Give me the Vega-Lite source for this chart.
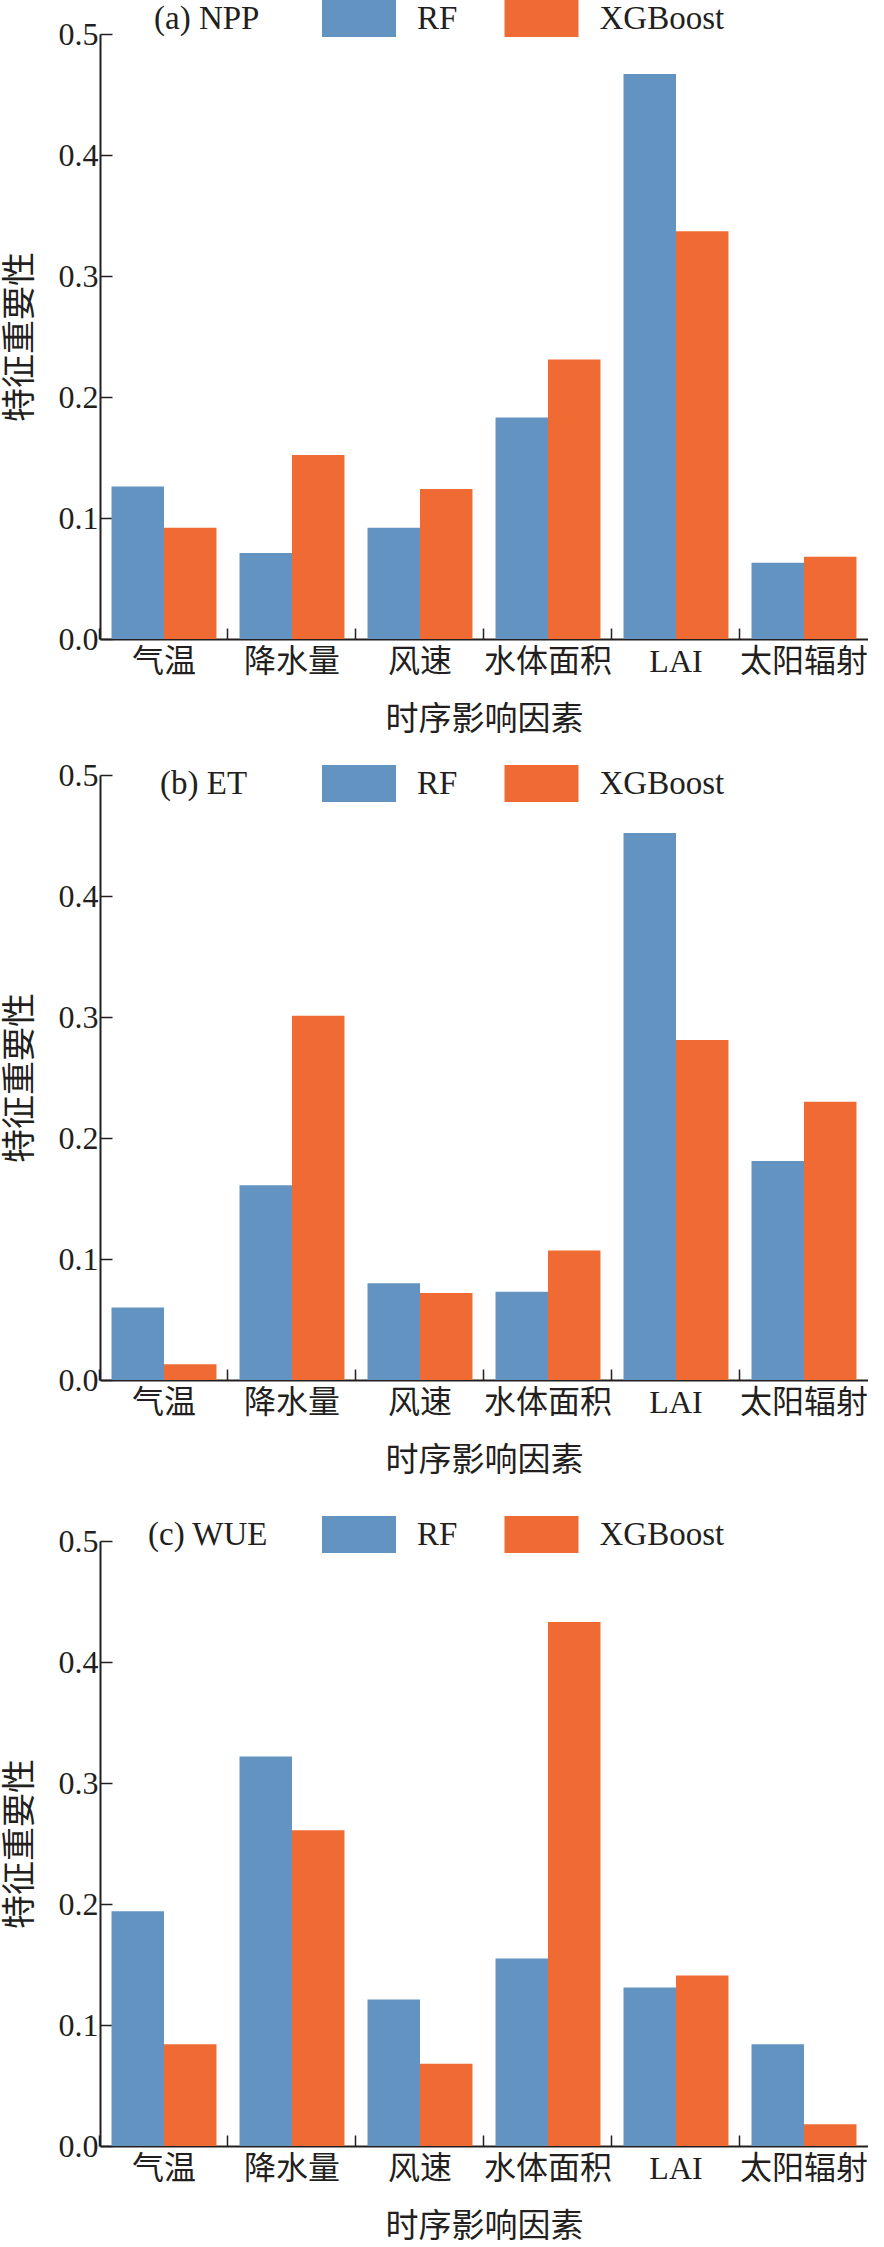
{
  "$schema": "https://vega.github.io/schema/vega-lite/v6.json",
  "background": "white",
  "padding": {"left": 3, "top": 0, "right": 0, "bottom": 0},
  "config": {
    "view": {"stroke": null},
    "font": "'Liberation Serif', 'Noto Sans CJK SC', serif",
    "axis": {
      "domainColor": "#231f20",
      "domainWidth": 2,
      "tickColor": "#231f20",
      "tickWidth": 1.5,
      "labelColor": "#231f20",
      "titleColor": "#231f20",
      "labelFont": "'Liberation Serif', 'Noto Sans CJK SC', serif",
      "titleFont": "'Liberation Serif', 'Noto Sans CJK SC', serif",
      "titleFontWeight": "normal",
      "grid": false
    },
    "legend": {
      "labelFont": "'Liberation Serif', serif",
      "titleFont": "'Liberation Serif', serif",
      "labelColor": "#231f20",
      "titleColor": "#231f20",
      "labelFontSize": 33,
      "titleFontSize": 33,
      "titleFontWeight": "normal",
      "titleOrient": "left",
      "titleAnchor": "middle",
      "titleBaseline": "middle",
      "symbolType": "M-2,-1H2V1H-2Z",
      "symbolSize": 1369,
      "symbolStrokeWidth": 0,
      "labelOffset": 39.5,
      "columnPadding": 46.5
    },
    "concat": {"spacing": 23}
  },
  "datasets": {
    "imp": [
      {"panel": "a", "factor": "气温", "model": "RF", "value": 0.126},
      {"panel": "a", "factor": "气温", "model": "XGBoost", "value": 0.092},
      {"panel": "a", "factor": "降水量", "model": "RF", "value": 0.071},
      {"panel": "a", "factor": "降水量", "model": "XGBoost", "value": 0.152},
      {"panel": "a", "factor": "风速", "model": "RF", "value": 0.092},
      {"panel": "a", "factor": "风速", "model": "XGBoost", "value": 0.124},
      {"panel": "a", "factor": "水体面积", "model": "RF", "value": 0.183},
      {"panel": "a", "factor": "水体面积", "model": "XGBoost", "value": 0.231},
      {"panel": "a", "factor": "LAI", "model": "RF", "value": 0.467},
      {"panel": "a", "factor": "LAI", "model": "XGBoost", "value": 0.337},
      {"panel": "a", "factor": "太阳辐射", "model": "RF", "value": 0.063},
      {"panel": "a", "factor": "太阳辐射", "model": "XGBoost", "value": 0.068},
      {"panel": "b", "factor": "气温", "model": "RF", "value": 0.060},
      {"panel": "b", "factor": "气温", "model": "XGBoost", "value": 0.013},
      {"panel": "b", "factor": "降水量", "model": "RF", "value": 0.161},
      {"panel": "b", "factor": "降水量", "model": "XGBoost", "value": 0.301},
      {"panel": "b", "factor": "风速", "model": "RF", "value": 0.080},
      {"panel": "b", "factor": "风速", "model": "XGBoost", "value": 0.072},
      {"panel": "b", "factor": "水体面积", "model": "RF", "value": 0.073},
      {"panel": "b", "factor": "水体面积", "model": "XGBoost", "value": 0.107},
      {"panel": "b", "factor": "LAI", "model": "RF", "value": 0.452},
      {"panel": "b", "factor": "LAI", "model": "XGBoost", "value": 0.281},
      {"panel": "b", "factor": "太阳辐射", "model": "RF", "value": 0.181},
      {"panel": "b", "factor": "太阳辐射", "model": "XGBoost", "value": 0.230},
      {"panel": "c", "factor": "气温", "model": "RF", "value": 0.194},
      {"panel": "c", "factor": "气温", "model": "XGBoost", "value": 0.084},
      {"panel": "c", "factor": "降水量", "model": "RF", "value": 0.322},
      {"panel": "c", "factor": "降水量", "model": "XGBoost", "value": 0.261},
      {"panel": "c", "factor": "风速", "model": "RF", "value": 0.121},
      {"panel": "c", "factor": "风速", "model": "XGBoost", "value": 0.068},
      {"panel": "c", "factor": "水体面积", "model": "RF", "value": 0.155},
      {"panel": "c", "factor": "水体面积", "model": "XGBoost", "value": 0.433},
      {"panel": "c", "factor": "LAI", "model": "RF", "value": 0.131},
      {"panel": "c", "factor": "LAI", "model": "XGBoost", "value": 0.141},
      {"panel": "c", "factor": "太阳辐射", "model": "RF", "value": 0.084},
      {"panel": "c", "factor": "太阳辐射", "model": "XGBoost", "value": 0.018}
    ]
  },
  "resolve": {"scale": {"color": "independent"}, "legend": {"color": "independent"}},
  "vconcat": [
    {
      "width": 768,
      "height": 605,
      "data": {"name": "imp"},
      "transform": [{"filter": "datum.panel === 'a'"}],
      "mark": {"type": "bar"},
      "encoding": {
        "x": {
          "field": "factor", "type": "nominal", "sort": null,
          "scale": {"paddingInner": 0.18, "paddingOuter": 0.09},
          "axis": {"title": "时序影响因素", "labelAngle": 0, "labelFontSize": 32, "titleFontSize": 33, "tickSize": -11, "bandPosition": -0.11, "labelPadding": 18, "titlePadding": 26}
        },
        "xOffset": {"field": "model", "type": "nominal", "scale": {"paddingInner": 0, "paddingOuter": 0}},
        "y": {
          "field": "value", "type": "quantitative",
          "scale": {"domain": [0, 0.5], "nice": false},
          "axis": {"title": "特征重要性", "values": [0, 0.1, 0.2, 0.3, 0.4, 0.5], "format": ".1f", "labelFontSize": 32, "titleFontSize": 34, "tickSize": -12, "labelPadding": 14, "titlePadding": 21}
        },
        "color": {
          "field": "model", "type": "nominal",
          "scale": {"domain": ["RF", "XGBoost"], "range": ["#6393c1", "#f06b34"]},
          "legend": {"orient": "none", "direction": "horizontal", "legendX": 54, "legendY": -34, "padding": 0, "title": "(a) NPP", "titlePadding": 80.5}
        }
      }
    },
    {
      "width": 768,
      "height": 605,
      "data": {"name": "imp"},
      "transform": [{"filter": "datum.panel === 'b'"}],
      "mark": {"type": "bar"},
      "encoding": {
        "x": {
          "field": "factor", "type": "nominal", "sort": null,
          "scale": {"paddingInner": 0.18, "paddingOuter": 0.09},
          "axis": {"title": "时序影响因素", "labelAngle": 0, "labelFontSize": 32, "titleFontSize": 33, "tickSize": -11, "bandPosition": -0.11, "labelPadding": 18, "titlePadding": 26}
        },
        "xOffset": {"field": "model", "type": "nominal", "scale": {"paddingInner": 0, "paddingOuter": 0}},
        "y": {
          "field": "value", "type": "quantitative",
          "scale": {"domain": [0, 0.5], "nice": false},
          "axis": {"title": "特征重要性", "values": [0, 0.1, 0.2, 0.3, 0.4, 0.5], "format": ".1f", "labelFontSize": 32, "titleFontSize": 34, "tickSize": -12, "labelPadding": 14, "titlePadding": 21}
        },
        "color": {
          "field": "model", "type": "nominal",
          "scale": {"domain": ["RF", "XGBoost"], "range": ["#6393c1", "#f06b34"]},
          "legend": {"orient": "none", "direction": "horizontal", "legendX": 60, "legendY": -10, "padding": 0, "title": "(b) ET", "titlePadding": 92.5}
        }
      }
    },
    {
      "width": 768,
      "height": 605,
      "data": {"name": "imp"},
      "transform": [{"filter": "datum.panel === 'c'"}],
      "mark": {"type": "bar"},
      "encoding": {
        "x": {
          "field": "factor", "type": "nominal", "sort": null,
          "scale": {"paddingInner": 0.18, "paddingOuter": 0.09},
          "axis": {"title": "时序影响因素", "labelAngle": 0, "labelFontSize": 32, "titleFontSize": 33, "tickSize": -11, "bandPosition": -0.11, "labelPadding": 18, "titlePadding": 26}
        },
        "xOffset": {"field": "model", "type": "nominal", "scale": {"paddingInner": 0, "paddingOuter": 0}},
        "y": {
          "field": "value", "type": "quantitative",
          "scale": {"domain": [0, 0.5], "nice": false},
          "axis": {"title": "特征重要性", "values": [0, 0.1, 0.2, 0.3, 0.4, 0.5], "format": ".1f", "labelFontSize": 32, "titleFontSize": 34, "tickSize": -12, "labelPadding": 14, "titlePadding": 21}
        },
        "color": {
          "field": "model", "type": "nominal",
          "scale": {"domain": ["RF", "XGBoost"], "range": ["#6393c1", "#f06b34"]},
          "legend": {"orient": "none", "direction": "horizontal", "legendX": 32, "legendY": -41, "padding": 16, "title": "(c) WUE", "titlePadding": 71.5}
        }
      }
    }
  ]
}
